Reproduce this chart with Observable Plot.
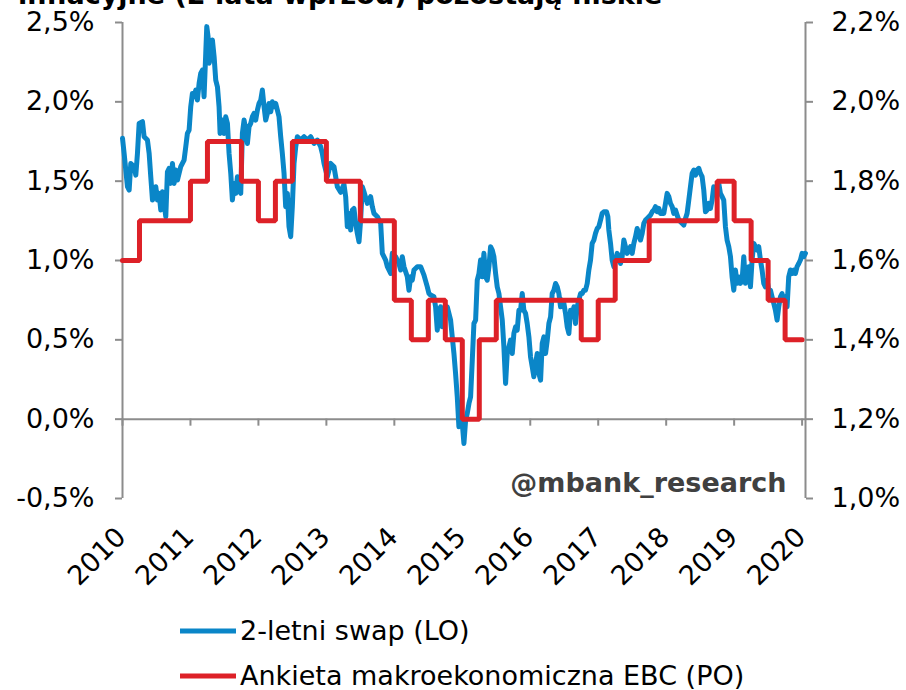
<!DOCTYPE html>
<html><head><meta charset="utf-8">
<script src="https://cdn.jsdelivr.net/npm/d3@7"></script>
<script src="https://cdn.jsdelivr.net/npm/@observablehq/plot@0.6"></script>
<style>
body{margin:0;background:#fff;font-family:"DejaVu Sans",Verdana,sans-serif;}
#wrap{position:relative;width:906px;height:690px;overflow:hidden;background:#fff;}
#title{position:absolute;left:18px;top:-19px;font-size:27px;font-weight:bold;line-height:27px;white-space:nowrap;color:#000;}
#chart{position:absolute;left:0;top:0;}
.leg{position:absolute;left:180px;height:28px;display:flex;align-items:center;font-size:27px;line-height:28px;white-space:nowrap;color:#000;}
.leg svg{margin-right:4px;}
</style></head><body>
<div id="wrap">
  <div id="title">inflacyjne (2 lata wprzód) pozostają niskie</div>
  <div id="chart"></div>
  <div class="leg" style="top:617px"><svg width="56" height="10"><line x1="0" y1="5" x2="56" y2="5" stroke="#0A86C8" stroke-width="5" stroke-linecap="round"/></svg><span>2-letni swap (LO)</span></div>
  <div class="leg" style="top:662px"><svg width="56" height="10"><line x1="0" y1="5" x2="56" y2="5" stroke="#DD2128" stroke-width="5" stroke-linecap="round"/></svg><span>Ankieta makroekonomiczna EBC (PO)</span></div>
</div>
<script>
// ---- data ----
const years = [2010, 2011, 2012, 2013, 2014, 2015, 2016, 2017, 2018, 2019, 2020];
const leftTicks = [-0.5, 0, 0.5, 1.0, 1.5, 2.0, 2.5];
const leftTickLabels = ["-0,5%", "0,0%", "0,5%", "1,0%", "1,5%", "2,0%", "2,5%"];
const rightTickLabels = ["1,0%", "1,2%", "1,4%", "1,6%", "1,8%", "2,0%", "2,2%"];

// 2-letni swap (left axis), time as offset in years from 2010
const swapT = [0.000,0.024,0.073,0.098,0.122,0.171,0.196,0.220,0.245,0.294,0.318,0.367,0.392,0.416,0.441,0.490,0.514,0.539,0.563,0.588,0.612,0.637,0.661,0.686,0.710,0.735,0.759,0.784,0.808,0.857,0.906,0.931,0.955,0.980,
1.004,1.029,1.053,1.078,1.102,1.127,1.151,1.176,1.200,1.225,1.240,1.259,1.274,1.299,1.323,1.348,1.372,1.397,1.421,1.436,1.470,1.495,1.519,1.544,1.568,1.593,1.617,1.642,1.666,1.691,1.715,1.740,1.764,1.789,1.813,1.838,1.862,1.887,1.911,1.936,1.960,1.985,
2.009,2.034,2.058,2.083,2.107,2.132,2.156,2.181,2.205,2.230,2.254,2.279,2.303,2.328,2.352,2.377,2.401,2.426,2.450,2.475,2.499,2.524,2.549,2.573,2.622,2.671,2.720,2.769,2.818,2.867,2.916,2.940,2.965,
3.014,3.063,3.112,3.137,3.161,3.210,3.259,3.284,3.308,3.333,3.357,3.382,3.406,3.431,3.455,3.480,3.504,3.529,3.553,3.602,3.651,3.676,3.700,3.750,3.799,3.823,3.872,3.897,3.946,3.970,
4.019,4.068,4.093,4.117,4.142,4.191,4.215,4.240,4.264,4.289,4.338,4.387,4.436,4.485,4.509,4.534,4.583,4.607,4.632,4.656,4.681,4.705,4.730,4.779,4.828,4.852,4.877,4.901,4.926,4.950,4.975,
5.000,5.024,5.049,5.073,5.098,5.122,5.147,5.171,5.196,5.220,5.245,5.269,5.294,5.318,5.343,5.367,5.392,5.416,5.441,5.465,5.490,5.514,5.539,5.563,5.588,5.612,5.637,5.661,5.686,5.710,5.735,5.759,5.784,5.808,5.833,5.857,5.882,5.906,5.931,5.955,5.980,
6.004,6.029,6.053,6.078,6.103,6.127,6.152,6.176,6.201,6.225,6.250,6.274,6.299,6.323,6.348,6.372,6.397,6.421,6.446,6.470,6.495,6.519,6.544,6.568,6.593,6.617,6.642,6.666,6.691,6.715,6.740,6.764,6.789,6.813,6.838,6.862,6.887,6.911,6.936,6.960,6.985,
7.009,7.034,7.058,7.083,7.122,7.142,7.156,7.181,7.205,7.230,7.254,7.279,7.303,7.328,7.352,7.377,7.401,7.426,7.450,7.475,7.500,7.524,7.549,7.573,7.597,7.622,7.647,7.671,7.696,7.720,7.769,7.794,7.818,7.843,7.867,7.892,7.916,7.965,7.990,
8.014,8.039,8.063,8.088,8.112,8.137,8.161,8.186,8.210,8.235,8.259,8.284,8.308,8.333,8.357,8.382,8.406,8.431,8.455,8.480,8.504,8.529,8.553,8.578,8.602,8.627,8.651,8.676,8.700,8.725,8.749,8.774,8.798,8.823,8.847,8.872,8.896,8.921,8.946,8.970,8.995,
9.019,9.044,9.068,9.093,9.117,9.142,9.166,9.191,9.215,9.240,9.264,9.289,9.313,9.338,9.362,9.387,9.411,9.436,9.460,9.485,9.509,9.534,9.558,9.583,9.607,9.632,9.656,9.681,9.705,9.730,9.754,9.779,9.803,9.828,9.853,9.877,9.902,9.926,9.951,9.975,
10.000,10.024,10.049];
const swapValues = [1.770,1.675,1.465,1.444,1.612,1.591,1.538,1.675,1.864,1.875,1.780,1.759,1.675,1.528,1.381,1.465,1.381,1.423,1.318,1.433,1.360,1.276,1.559,1.580,1.486,1.612,1.486,1.570,1.507,1.591,1.633,1.717,1.801,1.822,
1.969,2.053,2.032,2.074,2.011,2.116,2.179,2.200,2.032,2.306,2.474,2.411,2.243,2.284,2.390,2.284,2.137,2.095,1.969,1.801,1.885,1.801,1.906,1.864,1.675,1.549,1.381,1.486,1.423,1.528,1.444,1.423,1.801,1.885,1.822,1.738,1.843,1.864,1.906,1.927,1.885,1.948,
1.990,2.011,2.074,1.969,1.885,1.927,1.990,1.937,2.000,1.969,1.990,1.948,1.906,1.780,1.675,1.549,1.339,1.423,1.213,1.150,1.339,1.612,1.717,1.780,1.759,1.780,1.759,1.780,1.738,1.759,1.717,1.675,1.612,
1.528,1.612,1.591,1.528,1.465,1.430,1.480,1.402,1.213,1.297,1.192,1.318,1.328,1.234,1.171,1.118,1.255,1.465,1.433,1.360,1.402,1.339,1.297,1.276,1.234,1.045,1.003,0.961,0.918,1.045,
1.024,0.981,0.940,1.024,0.961,0.897,0.813,0.897,0.876,0.940,0.961,0.961,0.908,0.834,0.792,0.782,0.771,0.708,0.561,0.687,0.708,0.582,0.645,0.708,0.624,0.519,0.414,0.288,0.141,-0.048,0.036,
-0.027,-0.153,-0.006,0.036,0.099,0.141,0.372,0.603,0.624,0.876,0.918,1.003,0.897,1.045,0.897,0.876,0.961,1.087,1.066,1.024,0.918,0.834,0.792,0.708,0.624,0.456,0.225,0.414,0.456,0.498,0.414,0.540,0.582,0.561,0.687,0.687,0.792,0.687,0.666,0.603,0.519,
0.393,0.330,0.267,0.351,0.414,0.288,0.246,0.477,0.519,0.414,0.498,0.603,0.645,0.792,0.813,0.855,0.834,0.792,0.708,0.750,0.729,0.666,0.582,0.540,0.687,0.645,0.708,0.603,0.708,0.750,0.792,0.792,0.813,0.813,0.855,0.940,1.003,1.108,1.129,1.171,1.202,
1.213,1.255,1.297,1.307,1.307,1.276,1.192,1.108,1.003,0.961,1.003,1.045,1.024,0.981,1.024,1.129,1.087,1.045,1.066,1.087,1.045,1.108,1.150,1.202,1.171,1.129,1.171,1.234,1.255,1.265,1.286,1.307,1.318,1.339,1.307,1.328,1.297,1.297,1.360,
1.423,1.402,1.360,1.339,1.297,1.318,1.286,1.255,1.244,1.234,1.223,1.265,1.297,1.381,1.465,1.549,1.570,1.538,1.570,1.581,1.549,1.528,1.444,1.307,1.318,1.360,1.328,1.381,1.465,1.444,1.465,1.486,1.423,1.402,1.381,1.213,1.129,1.087,1.024,0.897,0.813,
0.940,0.856,0.897,0.856,0.876,1.024,0.856,0.897,0.961,0.834,1.003,1.108,1.087,1.066,1.087,1.003,0.940,0.856,0.834,0.876,0.813,0.813,0.771,0.729,0.687,0.624,0.708,0.771,0.792,0.750,0.771,0.708,0.897,0.940,0.918,0.940,0.918,0.961,0.981,1.003,
1.045,1.024,1.045];

// Ankieta makroekonomiczna EBC (right axis), step start as offset in years from 2010
const ebcT = [0.00, 0.25, 1.00, 1.25, 1.75, 2.00, 2.25, 2.50, 3.00, 3.50, 4.00, 4.25, 4.50, 4.75, 5.00, 5.25, 5.50, 6.75, 7.00, 7.25, 7.75, 8.75, 9.00, 9.25, 9.50, 9.75, 10.00];
const ebcValues = [1.6, 1.7, 1.8, 1.9, 1.8, 1.7, 1.8, 1.9, 1.8, 1.7, 1.5, 1.4, 1.5, 1.4, 1.2, 1.4, 1.5, 1.4, 1.5, 1.6, 1.7, 1.8, 1.7, 1.6, 1.5, 1.4, 1.4];

// ---- chart ----
const swap = swapT.map((t, i) => ({t: 2010 + t, v: swapValues[i]}));
const ebc = ebcT.map((t, i) => ({t: 2010 + t, v: ebcValues[i]}));
const leftFromRight = v => (v - 1.2) / 0.4;   // secondary axis mapping

const W = 906, H = 600, mt = 22, mb = 102, ml = 122, mr = 101;
const yDomain = [-0.5, 2.5];
const xDomain = [2010, 2020.05];
const pxPerUnit = (H - mt - mb) / (yDomain[1] - yDomain[0]);
const axisGrey = "#8c8c8c";
const leftLab = new Map(leftTicks.map((d, i) => [d, leftTickLabels[i]]));
const rightLab = new Map(leftTicks.map((d, i) => [d, rightTickLabels[i]]));

const plot = Plot.plot({
  width: W, height: H,
  marginTop: mt, marginBottom: mb, marginLeft: ml, marginRight: mr,
  style: {fontFamily: "DejaVu Sans, Verdana, sans-serif", fontSize: "27px", background: "transparent", color: "#000"},
  x: {domain: xDomain, axis: null},
  y: {domain: yDomain, axis: null},
  marks: [
    Plot.ruleX([xDomain[0]], {stroke: axisGrey, strokeWidth: 2}),
    Plot.ruleX([xDomain[1]], {stroke: axisGrey, strokeWidth: 2}),
    Plot.ruleY([0], {stroke: axisGrey, strokeWidth: 2}),
    Plot.axisY(leftTicks, {anchor: "left", label: null, tickSize: 7, tickPadding: 21, tickFormat: d => leftLab.get(d), stroke: axisGrey, strokeWidth: 2, fill: "#000", fontSize: 27}),
    Plot.axisY(leftTicks, {anchor: "right", label: null, tickSize: 7, tickPadding: 19, tickFormat: d => rightLab.get(d), stroke: axisGrey, strokeWidth: 2, fill: "#000", fontSize: 27}),
    Plot.ruleX(years, {x: d => d, y1: 0, y2: -7 / pxPerUnit, stroke: axisGrey, strokeWidth: 2}),
    Plot.text(years, {x: d => d, frameAnchor: "bottom", text: d => String(d), rotate: -45, textAnchor: "end", lineAnchor: "bottom", dx: 5, dy: 40, fontSize: 27, fill: "#000"}),
    Plot.line(swap, {x: "t", y: "v", stroke: "#0A86C8", strokeWidth: 5, strokeLinejoin: "round", strokeLinecap: "round"}),
    Plot.line(ebc, {x: "t", y: d => leftFromRight(d.v), curve: "step-after", stroke: "#DD2128", strokeWidth: 5, strokeLinejoin: "miter"}),
    Plot.text(["@mbank_research"], {frameAnchor: "bottom-right", text: d => d, textAnchor: "end", lineAnchor: "bottom", dx: -19, dy: -7, fontSize: 27, fontWeight: "bold", fill: "#404040"})
  ]
});
document.getElementById("chart").appendChild(plot);
</script>
</body></html>
